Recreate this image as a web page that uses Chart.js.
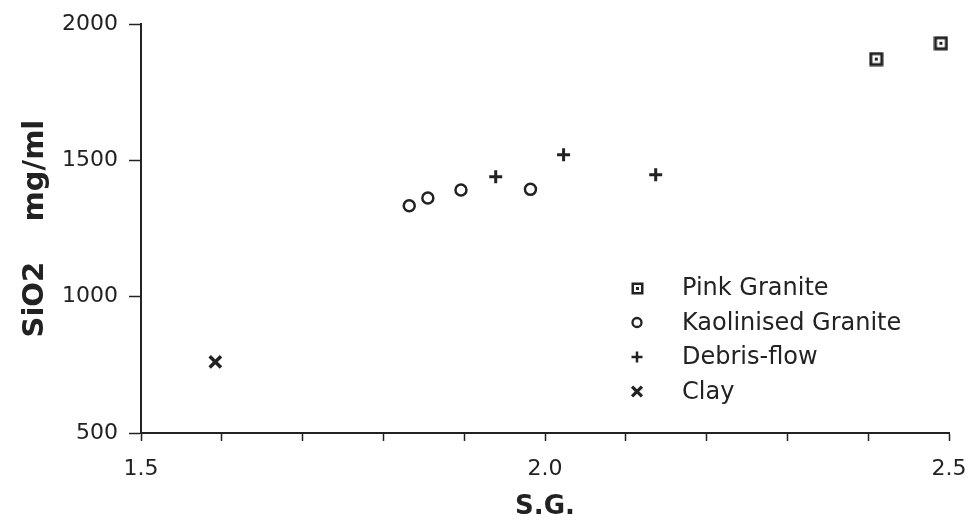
<!DOCTYPE html>
<html>
<head>
<meta charset="utf-8">
<script src="https://cdn.jsdelivr.net/npm/chart.js@4/dist/chart.umd.min.js"></script>
<style>
  html, body { margin: 0; padding: 0; background: #fff; }
  #wrap { width: 971px; height: 526px; }
</style>
</head>
<body>
<div id="wrap"><canvas id="c" width="971" height="526"></canvas></div>
<script>
// Specific gravity (S.G.) against dissolved SiO2 for four sample groups
const seriesNames = ['Pink Granite', 'Kaolinised Granite', 'Debris-flow', 'Clay'];

const pinkGraniteSG   = [2.41, 2.49];
const pinkGraniteSiO2 = [1872, 1930];

const kaolinisedSG    = [1.832, 1.855, 1.896, 1.982];
const kaolinisedSiO2  = [1334, 1362, 1392, 1394];

const debrisFlowSG    = [1.939, 2.023, 2.137];
const debrisFlowSiO2  = [1440, 1521, 1448];

const claySG          = [1.592];
const claySiO2        = [761];

const xTickLabels = ['1.5', '2.0', '2.5'];
const yTickLabels = ['500', '1000', '1500', '2000'];

const ink = '#222222';
const family = "'DejaVu Sans', 'Liberation Sans', sans-serif";

function toPoints(xs, ys) {
  return xs.map((x, i) => ({ x: x, y: ys[i] }));
}

// square with a dot in the middle
function squareMarker(size, line, dot) {
  const c = document.createElement('canvas');
  c.width = size; c.height = size;
  const g = c.getContext('2d');
  g.strokeStyle = ink;
  g.lineWidth = line;
  g.strokeRect(line / 2 + 0.5, line / 2 + 0.5, size - line - 1, size - line - 1);
  g.fillStyle = ink;
  const d0 = (size - dot) / 2;
  g.fillRect(d0, d0, dot, dot);
  return c;
}

const squarePoint  = squareMarker(15, 3, 3);
const squareLegend = squareMarker(13, 2.5, 3);

const datasets = [
  {
    label: seriesNames[0],
    data: toPoints(pinkGraniteSG, pinkGraniteSiO2),
    pointStyle: squarePoint,
    legendStyle: squareLegend,
    pointRadius: 7
  },
  {
    label: seriesNames[1],
    data: toPoints(kaolinisedSG, kaolinisedSiO2),
    pointStyle: 'circle',
    pointRadius: 5.5,
    pointBorderWidth: 2.5,
    pointBackgroundColor: '#ffffff',
    legendRadius: 4.5,
    legendWidth: 2.3
  },
  {
    label: seriesNames[2],
    data: toPoints(debrisFlowSG, debrisFlowSiO2),
    pointStyle: 'cross',
    pointRadius: 6.5,
    pointBorderWidth: 3,
    legendRadius: 5.5,
    legendWidth: 2.5
  },
  {
    label: seriesNames[3],
    data: toPoints(claySG, claySiO2),
    pointStyle: 'crossRot',
    pointRadius: 8,
    pointBorderWidth: 3.5,
    legendRadius: 7,
    legendWidth: 3.2
  }
].map(ds => Object.assign({
  showLine: false,
  pointBorderColor: ink,
  pointBackgroundColor: ink,
  pointHoverRadius: ds.pointRadius
}, ds));

// key drawn inside the plot area, lower right
const keyPlugin = {
  id: 'sampleKey',
  afterDraw(chart) {
    const ctx = chart.ctx;
    const markX = 637, textX = 682, firstY = 288, stepY = 34.5;
    ctx.save();
    ctx.font = "24px " + family;
    ctx.textBaseline = 'middle';
    ctx.textAlign = 'left';
    chart.data.datasets.forEach((ds, i) => {
      const y = firstY + i * stepY;
      ctx.fillStyle = ink;
      ctx.strokeStyle = ink;
      if (ds.legendStyle) {
        const img = ds.legendStyle;
        ctx.drawImage(img, Math.round(markX - img.width / 2), Math.round(y - img.height / 2));
      } else {
        ctx.fillStyle = '#ffffff';
        ctx.lineWidth = ds.legendWidth;
        Chart.helpers.drawPoint(ctx, {
          pointStyle: ds.pointStyle,
          radius: ds.legendRadius,
          borderWidth: ds.legendWidth,
          rotation: 0
        }, markX, y);
      }
      ctx.fillStyle = ink;
      ctx.fillText(ds.label, textX, y + 1);
    });
    ctx.restore();
  }
};

new Chart(document.getElementById('c'), {
  type: 'scatter',
  data: { datasets: datasets },
  plugins: [keyPlugin],
  options: {
    responsive: false,
    animation: false,
    events: [],
    layout: { padding: { left: 0, top: 23, right: 22, bottom: 0 } },
    plugins: {
      legend: { display: false },
      tooltip: { enabled: false }
    },
    scales: {
      x: {
        type: 'linear',
        min: 1.5,
        max: 2.5,
        border: { color: ink, width: 2 },
        grid: { drawOnChartArea: false, drawTicks: true, tickLength: 8, tickColor: ink, tickWidth: 1.5 },
        ticks: {
          stepSize: 0.1,
          autoSkip: false,
          maxRotation: 0,
          color: ink,
          padding: 15,
          font: { family: family, size: 22 },
          callback: (v) => {
            const s = Number(v).toFixed(1);
            return xTickLabels.includes(s) ? s : '';
          }
        },
        title: {
          display: true,
          text: 'S.G.',
          color: ink,
          font: { family: family, size: 26, weight: 'bold' },
          padding: { top: 0, bottom: 3 }
        },
        afterFit(scale) {
          scale.height = 93;
          // end labels may spill into the outer padding
          scale.paddingLeft = 0;
          scale.paddingRight = 0;
        }
      },
      y: {
        type: 'linear',
        min: 500,
        max: 2000,
        border: { color: ink, width: 2 },
        grid: { drawOnChartArea: false, drawTicks: true, tickLength: 12, tickColor: ink, tickWidth: 1.5 },
        ticks: {
          stepSize: 500,
          color: ink,
          padding: 11,
          font: { family: family, size: 22 },
          callback: (v) => {
            const s = String(Math.round(v));
            return yTickLabels.includes(s) ? s : '';
          }
        },
        title: {
          display: true,
          text: 'SiO2    mg/ml',
          color: ink,
          font: { family: family, size: 29, weight: 'bold' },
          padding: { top: 18, bottom: 0 }
        },
        afterFit(scale) { scale.width = 141; }
      }
    }
  }
});
</script>
</body>
</html>
